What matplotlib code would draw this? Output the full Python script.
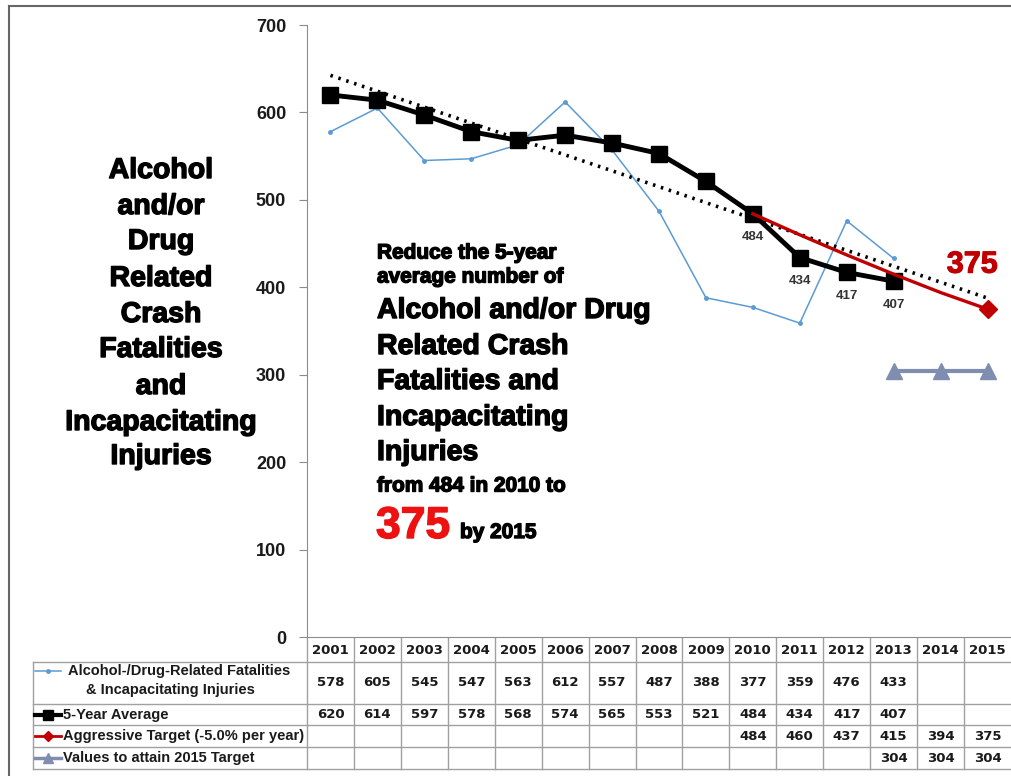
import numpy as np
import matplotlib
matplotlib.use("Agg")
import matplotlib.pyplot as plt
import matplotlib.transforms as mtransforms
import matplotlib.patheffects as pe
from matplotlib.lines import Line2D

# ---- data ----
years = [2001, 2002, 2003, 2004, 2005, 2006, 2007, 2008,
         2009, 2010, 2011, 2012, 2013, 2014, 2015]
annual = [578, 605, 545, 547, 563, 612, 557, 487, 388, 377, 359, 476, 433, None, None]
five_year_avg = [620, 614, 597, 578, 568, 574, 565, 553, 521, 484, 434, 417, 407, None, None]
aggressive = [None] * 9 + [484, 460, 437, 415, 394, 375]
attain_2015 = [None] * 12 + [304, 304, 304]
labelled_avg_years = [2010, 2011, 2012, 2013]

series_names = [
    "Alcohol-/Drug-Related Fatalities\n& Incapacitating Injuries",
    "5-Year Average",
    "Aggressive Target (-5.0% per year)",
    "Values to attain 2015 Target",
]

side_title = ["Alcohol", "and/or", "Drug", "Related", "Crash",
              "Fatalities", "and", "Incapacitating", "Injuries"]
goal_lines = ["Reduce the 5-year", "average number of",
              "Alcohol and/or Drug", "Related Crash", "Fatalities and",
              "Incapacitating", "Injuries", "from 484 in 2010 to"]
goal_value = 375
goal_year = "by 2015"

# ---- colours ----
C_BLUE = "#5b9bd5"
C_BLACK = "#000000"
C_RED = "#c00000"
C_SLATE = "#7f8db0"
C_GRID = "#a0a0a0"
C_TEXT = "#1a1a1a"

W, H = 1012, 776
plt.rcParams["font.family"] = ["Liberation Sans", "DejaVu Sans"]
fig = plt.figure(figsize=(W / 100, H / 100), dpi=100)
fig.patch.set_facecolor("white")


def thick(color="black", w=1.0):
    # thicken the heavy display type
    return [pe.withStroke(linewidth=w, foreground=color)]


def fx(px):
    return px / W


def fy(py):
    return 1 - py / H


# axes area
ax_left, ax_right, ax_top, ax_bottom = 307, 1011, 25, 637
ax = fig.add_axes([fx(ax_left), fy(ax_bottom), fx(ax_right - ax_left),
                   (ax_bottom - ax_top) / H])
x = np.arange(len(years))


def arr(vals):
    return np.array([np.nan if v is None else v for v in vals], dtype=float)


annual_a = arr(annual)
avg_a = arr(five_year_avg)
agg_a = arr(aggressive)
att_a = arr(attain_2015)

# linear trend of the five-year average, extended through 2015
mask = ~np.isnan(avg_a)
coef = np.polyfit(x[mask], avg_a[mask], 1)
trend = np.polyval(coef, x)

ax.plot(x, annual_a, color=C_BLUE, lw=1.1, marker="o", ms=2.5, zorder=2)
ax.plot(x, trend, color="black", lw=2.6, ls=(0, (0.7, 1.6)), zorder=3)
ax.plot(x, avg_a, color=C_BLACK, lw=3.5, marker="s", ms=11, zorder=4)
agg_idx = np.where(~np.isnan(agg_a))[0]
ax.plot(x, agg_a, color=C_RED, lw=2.4, marker="D", ms=9,
        markevery=[int(agg_idx[-1])], zorder=5)
ax.plot(x, att_a, color=C_SLATE, lw=3, marker="^", ms=11, zorder=4)

for yr in labelled_avg_years:
    i = years.index(yr)
    ax.annotate(f"{five_year_avg[i]}", (x[i], avg_a[i]), xytext=(0, -17),
                textcoords="offset points", ha="center", va="center",
                fontsize=9.5, fontweight="bold", color="#333333")

ax.annotate(f"{aggressive[-1]}", (x[-1], agg_a[-1]), xytext=(-11, 32),
            textcoords="offset points", ha="center", va="center",
            fontsize=22, fontweight="bold", color=C_RED,
            path_effects=thick(C_RED, 0.8))

ax.set_xlim(-0.5, len(years) - 0.5)
ax.set_ylim(0, 700)
ax.set_yticks(np.arange(0, 701, 100))
ax.set_xticks([])
for s in ["top", "right"]:
    ax.spines[s].set_visible(False)
ax.spines["left"].set_color("#8c8c8c")
ax.spines["bottom"].set_color("#8c8c8c")
ax.tick_params(axis="y", length=6, color="#8c8c8c", pad=9,
               labelsize=13, labelcolor=C_TEXT)
for lab in ax.get_yticklabels():
    lab.set_fontweight("bold")


# ---- data table under the axes ----
def ay(py):
    return (ax_bottom - py) / (ax_bottom - ax_top)


row_edges = [638, 662, 704, 725, 747, 769]
t_data = mtransforms.blended_transform_factory(ax.transData, ax.transAxes)
t_fig = mtransforms.blended_transform_factory(fig.transFigure, ax.transAxes)
tbl_left = 33

for edge in row_edges[1:]:
    fig.add_artist(Line2D([fx(tbl_left), 1.0], [ay(edge)] * 2, transform=t_fig,
                          color=C_GRID, lw=1))
fig.add_artist(Line2D([fx(tbl_left)] * 2, [ay(row_edges[1]), ay(row_edges[-1])],
                      transform=t_fig, color=C_GRID, lw=1))
for i in range(len(years)):
    ax.add_artist(Line2D([i - 0.5] * 2, [ay(row_edges[0]), ay(row_edges[-1])],
                         transform=t_data, color=C_GRID, lw=1, clip_on=False))

table_rows = [annual, five_year_avg, aggressive, attain_2015]
centers = [(row_edges[k] + row_edges[k + 1]) / 2 for k in range(len(row_edges) - 1)]

for i, yr in enumerate(years):
    ax.text(i, ay(centers[0] + 1), str(yr), transform=t_data, ha="center",
            va="center", fontsize=9.5, fontweight="bold", color=C_TEXT,
            family="DejaVu Sans")
    for r, vals in enumerate(table_rows):
        if vals[i] is not None:
            ax.text(i, ay(centers[r + 1]), str(vals[i]), transform=t_data,
                    ha="center", va="center", fontsize=9.5, fontweight="bold",
                    color=C_TEXT, family="DejaVu Sans")

# row labels with legend keys
key_styles = [
    dict(color=C_BLUE, lw=1.1, marker="o", ms=2.5),
    dict(color=C_BLACK, lw=3, marker="s", ms=7),
    dict(color=C_RED, lw=2, marker="D", ms=5),
    dict(color=C_SLATE, lw=2.5, marker="^", ms=7),
]
label_kw = dict(fontsize=10.5, fontweight="bold", color=C_TEXT)
first, second = series_names[0].split("\n")
fig.text(fx(179), fy(671), first, ha="center", va="center", **label_kw)
fig.text(fx(170), fy(690), second, ha="center", va="center", **label_kw)
key_y = [671] + [centers[r + 1] for r in range(1, 4)]
for r, st in enumerate(key_styles):
    fig.add_artist(Line2D([fx(35), fx(61)], [fy(key_y[r])] * 2,
                          color=st["color"], lw=st["lw"]))
    fig.add_artist(Line2D([fx(48)], [fy(key_y[r])], color=st["color"],
                          marker=st["marker"], ms=st["ms"], lw=0))
    if r > 0:
        fig.text(fx(63), fy(key_y[r]), series_names[r], ha="left",
                 va="center", **label_kw)

# ---- side title ----
side_y = [171, 207, 242, 279, 315, 350, 387, 423, 457]
for txt, py in zip(side_title, side_y):
    fig.text(fx(161), fy(py), txt, ha="center", va="center", fontsize=20.5,
             fontweight="bold", color="black", path_effects=thick())

# ---- goal statement ----
goal_y = [253, 277, 311, 347, 382, 418, 453, 486]
goal_size = [15, 15, 20.5, 20.5, 20.5, 20.5, 20.5, 15]
for txt, py, fs in zip(goal_lines, goal_y, goal_size):
    fig.text(fx(377), fy(py), txt, ha="left", va="center", fontsize=fs,
             fontweight="bold", color="black", path_effects=thick())
fig.text(fx(376), fy(538), str(goal_value), ha="left", va="baseline",
         fontsize=32, fontweight="bold", color="#ee1111",
         path_effects=thick("#ee1111"))
fig.text(fx(460), fy(538), goal_year, ha="left", va="baseline",
         fontsize=15, fontweight="bold", color="black", path_effects=thick())

# ---- outer frame lines ----
fig.add_artist(Line2D([fx(9), 1], [fy(6)] * 2, color="#666666", lw=1.5))
fig.add_artist(Line2D([fx(9)] * 2, [fy(6), 0], color="#666666", lw=1.5))

fig.savefig("out.png", dpi=100, facecolor="white")
